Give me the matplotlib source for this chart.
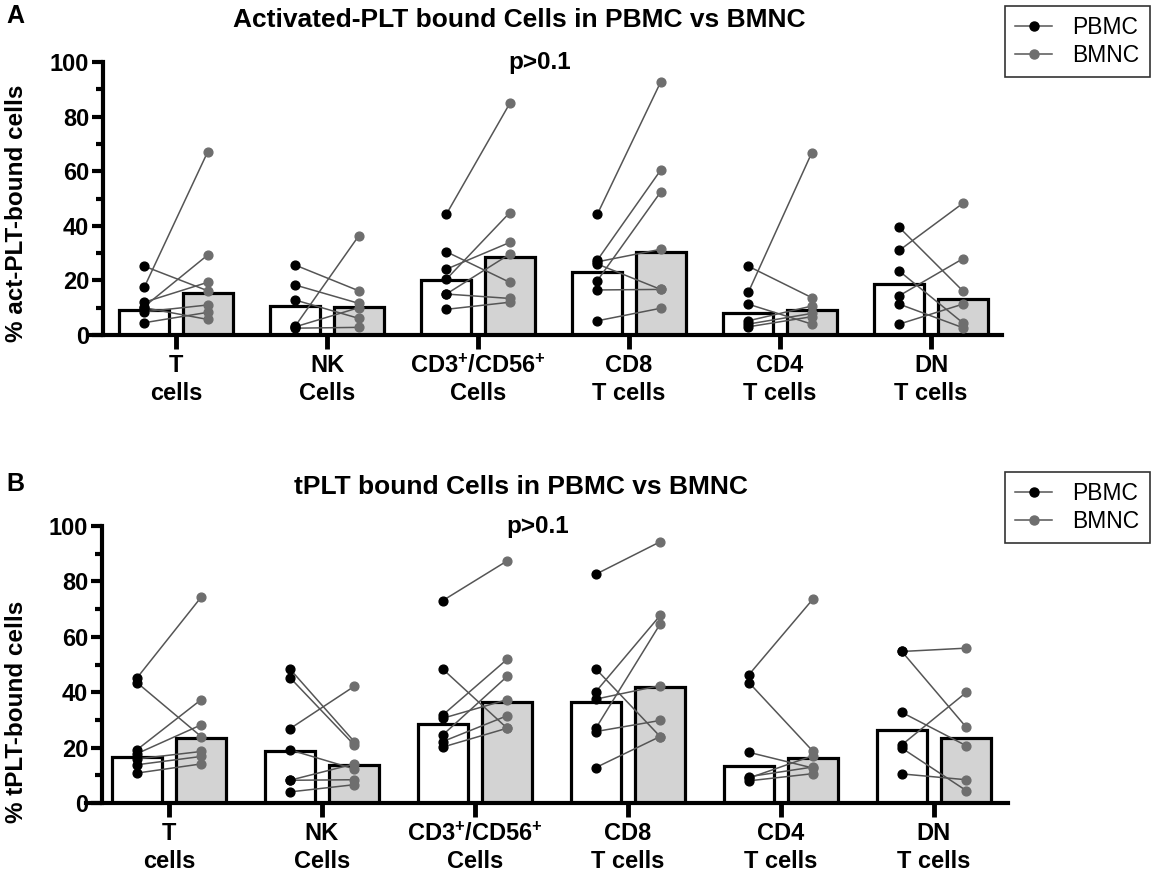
import matplotlib
matplotlib.use('Agg')
import matplotlib.pyplot as plt
from matplotlib.ticker import MultipleLocator
from matplotlib.lines import Line2D
import numpy as np

# fonts: Arial-like bold everywhere, superscripts too
plt.rcParams['font.family'] = ['Liberation Sans', 'DejaVu Sans']
plt.rcParams['font.weight'] = 'bold'
plt.rcParams['mathtext.fontset'] = 'custom'
plt.rcParams['mathtext.rm'] = 'Liberation Sans:bold'
plt.rcParams['mathtext.it'] = 'Liberation Sans:bold'
plt.rcParams['mathtext.bf'] = 'Liberation Sans:bold'

categories = ['T\ncells', 'NK\nCells', 'CD3$^{+}$/CD56$^{+}$\nCells',
              'CD8\nT cells', 'CD4\nT cells', 'DN\nT cells']

# Panel A - activated PLT bound cells (paired donors, PBMC vs BMNC)
act_pbmc = [[17.5, 25.2, 10.4, 12.0, 8.5, 4.5, 10.0],
            [25.6, 18.3, 12.8, 3.3, 2.5, 3.0],
            [44.2, 30.5, 24.1, 20.4, 15.0, 15.0, 9.4],
            [44.2, 27.4, 19.9, 26.8, 26.0, 16.5, 5.2],
            [15.6, 25.2, 11.3, 5.2, 4.0, 3.0],
            [39.4, 31.0, 23.4, 14.4, 11.3, 4.0]]
act_bmnc = [[67.1, 16.2, 29.3, 19.3, 11.0, 8.3, 5.7],
            [16.2, 11.6, 6.1, 36.3, 2.8, 10.0],
            [84.8, 19.3, 33.9, 44.8, 29.6, 13.4, 12.0],
            [92.7, 60.4, 52.4, 31.4, 16.7, 16.7, 9.8],
            [66.7, 13.7, 4.0, 10.6, 7.9, 6.7],
            [16.2, 48.2, 4.5, 27.9, 2.7, 11.3]]
act_bar_pbmc = [9.1, 10.6, 20.1, 23.2, 7.9, 18.5]
act_bar_bmnc = [15.5, 10.1, 28.7, 30.5, 9.1, 13.1]

# Panel B - tPLT bound cells
t_pbmc = [[45.1, 43.5, 19.2, 17.8, 15.9, 13.8, 10.8],
          [48.4, 45.3, 26.8, 19.2, 8.2, 8.2, 4.0],
          [73.1, 48.3, 31.8, 30.6, 24.6, 22.2, 20.2],
          [82.6, 48.4, 40.2, 37.5, 27.0, 25.8, 12.8],
          [46.3, 43.5, 18.3, 9.0, 8.0, 9.5],
          [54.7, 54.7, 32.7, 21.0, 19.8, 10.5]]
t_bmnc = [[74.3, 24.0, 37.3, 28.2, 18.6, 16.8, 14.1],
          [22.2, 21.0, 42.1, 12.3, 14.1, 8.4, 6.6],
          [87.4, 27.0, 51.9, 37.3, 45.7, 31.5, 27.0],
          [94.3, 24.0, 67.7, 42.4, 64.6, 29.8, 24.0],
          [73.7, 18.6, 12.6, 17.1, 10.6, 13.0],
          [55.9, 27.4, 20.7, 39.9, 4.5, 8.4]]
t_bar_pbmc = [16.6, 18.6, 28.5, 36.4, 13.5, 26.4]
t_bar_bmnc = [23.4, 13.6, 36.6, 41.8, 16.2, 23.3]

W, H = 1160, 881
fig = plt.figure(figsize=(W / 100, H / 100), dpi=100)

off = 0.21
bw = 0.33
line_col = '#555555'
bm_col = '#6e6e6e'


def draw_panel(rect, xlim, spine_x, pbmc, bmnc, bar_p, bar_b):
    ax = fig.add_axes(rect)
    x = np.arange(len(categories))
    ax.bar(x - off, bar_p, bw, color='white', edgecolor='black', linewidth=2.3, zorder=1)
    ax.bar(x + off, bar_b, bw, color='#d3d3d3', edgecolor='black', linewidth=2.3, zorder=1)
    for i in range(len(categories)):
        for p, b in zip(pbmc[i], bmnc[i]):
            ax.plot([x[i] - off, x[i] + off], [p, b], color=line_col, lw=1.1, zorder=2)
        ax.scatter(np.full(len(pbmc[i]), x[i] - off), pbmc[i], s=40, color='black',
                   zorder=4, clip_on=False)
        ax.scatter(np.full(len(bmnc[i]), x[i] + off), bmnc[i], s=40, color=bm_col,
                   zorder=3, clip_on=False)

    ax.set_xlim(*xlim)
    ax.set_ylim(0, 100)
    ax.spines['top'].set_visible(False)
    ax.spines['right'].set_visible(False)
    ax.spines['left'].set_position(('data', spine_x))
    ax.spines['left'].set_linewidth(3)
    ax.spines['bottom'].set_linewidth(3)
    ax.yaxis.set_major_locator(MultipleLocator(20))
    ax.yaxis.set_minor_locator(MultipleLocator(10))
    ax.set_xticks(x)
    ax.set_xticklabels(categories, linespacing=1.25)
    ax.tick_params(axis='y', which='major', length=8, width=3, labelsize=17, pad=2)
    ax.tick_params(axis='y', which='minor', length=5, width=3)
    ax.tick_params(axis='x', length=10, width=3.5, labelsize=17, pad=4)
    ax.text(2.41, 100, 'p>0.1', ha='center', va='center', fontsize=17.5)
    return ax


# Step 1: panel A
axA = draw_panel([91 / W, 1 - 335 / H, 911 / W, 273 / H],
                 ((91 - 176) / 151, (1002 - 176) / 151), (103 - 176) / 151,
                 act_pbmc, act_bmnc, act_bar_pbmc, act_bar_bmnc)
# Step 2: panel B
axB = draw_panel([86 / W, 1 - 803 / H, 922 / W, 277 / H],
                 ((86 - 169) / 153, (1008 - 169) / 153), (102 - 169) / 153,
                 t_pbmc, t_bmnc, t_bar_pbmc, t_bar_bmnc)

# titles, panel letters, y labels
fig.text(519 / W, 1 - 20 / H, 'Activated-PLT bound Cells in PBMC vs BMNC',
         ha='center', va='center', fontsize=19)
fig.text(521 / W, 1 - 487 / H, 'tPLT bound Cells in PBMC vs BMNC',
         ha='center', va='center', fontsize=19)
fig.text(6 / W, 1 - 16 / H, 'A', ha='left', va='center', fontsize=18)
fig.text(6 / W, 1 - 484 / H, 'B', ha='left', va='center', fontsize=18)
fig.text(17 / W, 1 - 213 / H, '% act-PLT-bound cells', rotation=90,
         ha='center', va='center', fontsize=17.5)
fig.text(17 / W, 1 - 712 / H, '% tPLT-bound cells', rotation=90,
         ha='center', va='center', fontsize=17.5)

# legends
handles = [Line2D([], [], color=line_col, lw=1.1, marker='o', markersize=6.5,
                  markerfacecolor='black', markeredgecolor='black'),
           Line2D([], [], color=line_col, lw=1.1, marker='o', markersize=6.5,
                  markerfacecolor=bm_col, markeredgecolor=bm_col)]
for top in (6, 472):
    leg = fig.legend(handles, ['PBMC', 'BMNC'], loc='upper right',
                     bbox_to_anchor=(1150 / W, 1 - top / H),
                     prop={'weight': 'normal', 'size': 16.5}, fancybox=False,
                     edgecolor='black', handlelength=1.6, handletextpad=0.9,
                     borderpad=0.45, labelspacing=0.2, borderaxespad=0)
    leg.get_frame().set_linewidth(1.2)

plt.savefig('out.png', dpi=100)
